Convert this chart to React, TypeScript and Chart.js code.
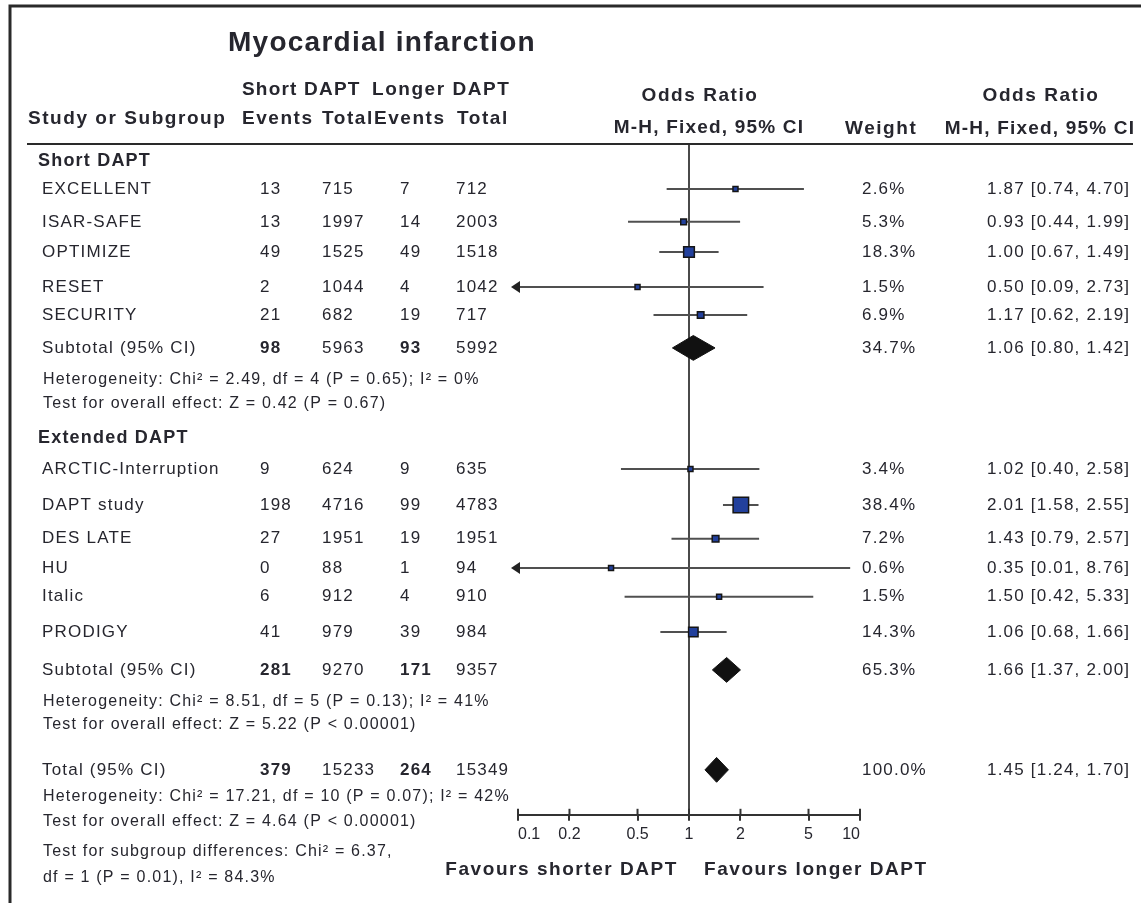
import React, { useEffect, useRef } from 'react';
import { Chart, registerables } from 'chart.js';

Chart.register(...registerables);

// ---------------- data ----------------
const TITLE = 'Myocardial infarction';
const GROUP_LABELS = ['Short DAPT', 'Extended DAPT'];
const GROUP_ROWS = [0.51, 8.76];

const STUDIES = ['EXCELLENT', 'ISAR-SAFE', 'OPTIMIZE', 'RESET', 'SECURITY', 'ARCTIC-Interruption', 'DAPT study', 'DES LATE', 'HU', 'Italic', 'PRODIGY'];
const SHORT_EVENTS = [13, 13, 49, 2, 21, 9, 198, 27, 0, 6, 41];
const SHORT_TOTAL = [715, 1997, 1525, 1044, 682, 624, 4716, 1951, 88, 912, 979];
const LONG_EVENTS = [7, 14, 49, 4, 19, 9, 99, 19, 1, 4, 39];
const LONG_TOTAL = [712, 2003, 1518, 1042, 717, 635, 4783, 1951, 94, 910, 984];
const WEIGHTS = [2.6, 5.3, 18.3, 1.5, 6.9, 3.4, 38.4, 7.2, 0.6, 1.5, 14.3];
const ODDS = [1.87, 0.93, 1.0, 0.5, 1.17, 1.02, 2.01, 1.43, 0.35, 1.5, 1.06];
const LOWER = [0.74, 0.44, 0.67, 0.09, 0.62, 0.4, 1.58, 0.79, 0.01, 0.42, 0.68];
const UPPER = [4.7, 1.99, 1.49, 2.73, 2.19, 2.58, 2.55, 2.57, 8.76, 5.33, 1.66];
const STUDY_ROWS = [1.34, 2.32, 3.22, 4.26, 5.1, 9.69, 10.76, 11.77, 12.64, 13.5, 14.55];

const POOLED_LABELS = ['Subtotal (95% CI)', 'Subtotal (95% CI)', 'Total (95% CI)'];
const POOLED_SHORT_EVENTS = [98, 281, 379];
const POOLED_SHORT_TOTAL = [5963, 9270, 15233];
const POOLED_LONG_EVENTS = [93, 171, 264];
const POOLED_LONG_TOTAL = [5992, 9357, 15349];
const POOLED_WEIGHTS = [34.7, 65.3, 100.0];
const POOLED_ODDS = [1.06, 1.66, 1.45];
const POOLED_LOWER = [0.8, 1.37, 1.24];
const POOLED_UPPER = [1.42, 2.0, 1.7];
const POOLED_ROWS = [6.08, 15.68, 18.66];

const NOTES = [
  'Heterogeneity: Chi² = 2.49, df = 4 (P = 0.65); I² = 0%',
  'Test for overall effect: Z = 0.42 (P = 0.67)',
  'Heterogeneity: Chi² = 8.51, df = 5 (P = 0.13); I² = 41%',
  'Test for overall effect: Z = 5.22 (P < 0.00001)',
  'Heterogeneity: Chi² = 17.21, df = 10 (P = 0.07); I² = 42%',
  'Test for overall effect: Z = 4.64 (P < 0.00001)',
  'Test for subgroup differences: Chi² = 6.37,',
  'df = 1 (P = 0.01), I² = 84.3%',
];
const NOTE_ROWS = [7.03, 7.75, 16.63, 17.32, 19.46, 20.21, 21.1, 21.88];

const TICK_VALUES = [0.1, 0.2, 0.5, 1, 2, 5, 10];
const TICK_LABELS = ['0.1', '0.2', '0.5', '1', '2', '5', '10'];
const FAVOURS = ['Favours shorter DAPT', 'Favours longer DAPT'];

// ---------------- styles / layout ----------------
const W = 1141;
const H = 903;
const FONT = '"Liberation Sans", Arial, Helvetica, sans-serif';
const TEXT = '#26262e';
const Y_MAX = 20;
const DIAMOND_HALF = 0.37;
const COLS = { name: 42, se: 260, st: 322, le: 400, lt: 456, weight: 862, or: 987 };
const HEAD_SPACING = 1.55;

function fmtOR(o: number, l: number, u: number) {
  return `${o.toFixed(2)} [${l.toFixed(2)}, ${u.toFixed(2)}]`;
}

function drawText(ctx: CanvasRenderingContext2D, text: string, x: number, y: number, font: string, align: CanvasTextAlign = 'left', spacing = 1.2) {
  ctx.save();
  ctx.font = font;
  (ctx as any).letterSpacing = `${spacing}px`;
  ctx.textAlign = align;
  ctx.textBaseline = 'middle';
  ctx.fillStyle = TEXT;
  ctx.fillText(text, x, y);
  ctx.restore();
}

const tablePlugin = {
  id: 'forestTable',
  afterDraw(chart: any) {
    const { ctx, chartArea, scales } = chart;
    const xs = scales.x;
    const ys = scales.y;
    const body = `17px ${FONT}`;
    const bodyBold = `bold 17px ${FONT}`;
    const head = `bold 19px ${FONT}`;
    const note = `16px ${FONT}`;

    ctx.save();
    // frame
    ctx.strokeStyle = '#2a2a2a';
    ctx.lineWidth = 3;
    ctx.beginPath();
    ctx.moveTo(10, H);
    ctx.lineTo(10, 6);
    ctx.lineTo(W, 6);
    ctx.stroke();
    // header rule
    ctx.lineWidth = 2;
    ctx.beginPath();
    ctx.moveTo(27, chartArea.top);
    ctx.lineTo(1133, chartArea.top);
    ctx.stroke();
    // upward tick halves
    ctx.strokeStyle = '#333';
    ctx.lineWidth = 2;
    xs.ticks.forEach((t: any) => {
      const px = xs.getPixelForValue(t.value);
      ctx.beginPath();
      ctx.moveTo(px, chartArea.bottom - 6);
      ctx.lineTo(px, chartArea.bottom);
      ctx.stroke();
    });
    // arrows for truncated CIs
    ctx.fillStyle = '#222';
    STUDIES.forEach((_, i) => {
      const y = ys.getPixelForValue(STUDY_ROWS[i]);
      if (LOWER[i] < xs.min) {
        ctx.beginPath();
        ctx.moveTo(chartArea.left - 7, y);
        ctx.lineTo(chartArea.left + 2, y - 6);
        ctx.lineTo(chartArea.left + 2, y + 6);
        ctx.closePath();
        ctx.fill();
      }
      if (UPPER[i] > xs.max) {
        ctx.beginPath();
        ctx.moveTo(chartArea.right + 7, y);
        ctx.lineTo(chartArea.right - 2, y - 6);
        ctx.lineTo(chartArea.right - 2, y + 6);
        ctx.closePath();
        ctx.fill();
      }
    });
    ctx.restore();

    // headers
    drawText(ctx, TITLE, 228, 43, `bold 28px ${FONT}`, 'left', 1.25);
    drawText(ctx, 'Short DAPT', 242, 90, head, 'left', 1.2);
    drawText(ctx, 'Longer DAPT', 372, 90, head, 'left', HEAD_SPACING);
    drawText(ctx, 'Study or Subgroup', 28, 119, head, 'left', HEAD_SPACING);
    drawText(ctx, 'Events', 242, 119, head, 'left', HEAD_SPACING);
    drawText(ctx, 'Total', 322, 119, head, 'left', HEAD_SPACING);
    drawText(ctx, 'Events', 374, 119, head, 'left', HEAD_SPACING);
    drawText(ctx, 'Total', 457, 119, head, 'left', HEAD_SPACING);
    drawText(ctx, 'Odds Ratio', 700, 96, head, 'center', HEAD_SPACING);
    drawText(ctx, 'M-H, Fixed, 95% CI', 709, 128, head, 'center', 1.2);
    drawText(ctx, 'Weight', 845, 129, head, 'left', HEAD_SPACING);
    drawText(ctx, 'Odds Ratio', 1041, 96, head, 'center', HEAD_SPACING);
    drawText(ctx, 'M-H, Fixed, 95% CI', 1040, 129, head, 'center', 1.2);

    GROUP_LABELS.forEach((g, i) => drawText(ctx, g, 38, ys.getPixelForValue(GROUP_ROWS[i]), `bold 18px ${FONT}`));

    STUDIES.forEach((s, i) => {
      const y = ys.getPixelForValue(STUDY_ROWS[i]);
      drawText(ctx, s, COLS.name, y, body);
      drawText(ctx, String(SHORT_EVENTS[i]), COLS.se, y, body);
      drawText(ctx, String(SHORT_TOTAL[i]), COLS.st, y, body);
      drawText(ctx, String(LONG_EVENTS[i]), COLS.le, y, body);
      drawText(ctx, String(LONG_TOTAL[i]), COLS.lt, y, body);
      drawText(ctx, `${WEIGHTS[i].toFixed(1)}%`, COLS.weight, y, body);
      drawText(ctx, fmtOR(ODDS[i], LOWER[i], UPPER[i]), COLS.or, y, body);
    });

    POOLED_LABELS.forEach((s, i) => {
      const y = ys.getPixelForValue(POOLED_ROWS[i]);
      drawText(ctx, s, COLS.name, y, body);
      drawText(ctx, String(POOLED_SHORT_EVENTS[i]), COLS.se, y, bodyBold);
      drawText(ctx, String(POOLED_SHORT_TOTAL[i]), COLS.st, y, body);
      drawText(ctx, String(POOLED_LONG_EVENTS[i]), COLS.le, y, bodyBold);
      drawText(ctx, String(POOLED_LONG_TOTAL[i]), COLS.lt, y, body);
      drawText(ctx, `${POOLED_WEIGHTS[i].toFixed(1)}%`, COLS.weight, y, body);
      drawText(ctx, fmtOR(POOLED_ODDS[i], POOLED_LOWER[i], POOLED_UPPER[i]), COLS.or, y, body);
    });

    NOTES.forEach((n, i) => drawText(ctx, n, 43, ys.getPixelForValue(NOTE_ROWS[i]), note));

    const one = xs.getPixelForValue(1);
    drawText(ctx, FAVOURS[0], one - 11, 870, head, 'right', HEAD_SPACING);
    drawText(ctx, FAVOURS[1], one + 15, 870, head, 'left', HEAD_SPACING);
  },
};

export default function App() {
  const ref = useRef<HTMLCanvasElement>(null);

  useEffect(() => {
    const canvas = ref.current;
    if (!canvas) return;

    const datasets: any[] = [];
    // line of no effect
    datasets.push({
      type: 'line',
      data: [{ x: 1, y: 0 }, { x: 1, y: Y_MAX }],
      borderColor: '#4a4a4a',
      borderWidth: 2,
      pointRadius: 0,
      order: 3,
    });
    // confidence intervals
    STUDIES.forEach((_, i) => {
      datasets.push({
        type: 'line',
        data: [{ x: LOWER[i], y: STUDY_ROWS[i] }, { x: UPPER[i], y: STUDY_ROWS[i] }],
        borderColor: '#505050',
        borderWidth: 2,
        pointRadius: 0,
        order: 2,
      });
    });
    // study estimates
    datasets.push({
      type: 'line',
      showLine: false,
      data: STUDIES.map((_, i) => ({ x: ODDS[i], y: STUDY_ROWS[i] })),
      pointStyle: 'rect',
      pointRadius: WEIGHTS.map((w) => Math.max(5, 2.5 * Math.sqrt(w)) / Math.SQRT2),
      pointBackgroundColor: '#22409c',
      pointBorderColor: '#151515',
      pointBorderWidth: 1.5,
      order: 1,
    });
    // pooled diamonds
    POOLED_ODDS.forEach((o, i) => {
      const r = POOLED_ROWS[i];
      datasets.push({
        type: 'line',
        data: [
          { x: POOLED_LOWER[i], y: r },
          { x: o, y: r - DIAMOND_HALF },
          { x: POOLED_UPPER[i], y: r },
          { x: o, y: r + DIAMOND_HALF },
          { x: POOLED_LOWER[i], y: r },
        ],
        borderColor: '#111',
        backgroundColor: '#111',
        borderWidth: 1,
        pointRadius: 0,
        tension: 0,
        fill: 'shape',
        order: 0,
      });
    });

    const chart = new Chart(canvas, {
      type: 'line',
      data: { datasets },
      options: {
        responsive: false,
        animation: false,
        events: [],
        layout: { padding: { left: 518, right: W - 860, top: 144, bottom: 55 } },
        plugins: { legend: { display: false }, tooltip: { enabled: false }, title: { display: false } },
        scales: {
          x: {
            type: 'logarithmic',
            min: 0.1,
            max: 10,
            afterBuildTicks: (scale: any) => {
              scale.ticks = TICK_VALUES.map((value) => ({ value }));
            },
            ticks: {
              autoSkip: false,
              maxRotation: 0,
              align: 'inner',
              padding: 4,
              color: TEXT,
              font: { family: FONT, size: 16 },
              callback: (_v: any, index: number) => TICK_LABELS[index],
            },
            grid: { display: true, drawOnChartArea: false, drawTicks: true, tickLength: 6, color: '#333', lineWidth: 2 },
            border: { display: true, color: '#333', width: 2 },
          },
          y: {
            type: 'linear',
            min: 0,
            max: Y_MAX,
            reverse: true,
            display: false,
          },
        },
      },
      plugins: [tablePlugin],
    } as any);

    return () => chart.destroy();
  }, []);

  return (
    <div style={{ position: 'absolute', left: 0, top: 0, width: W, height: H, background: '#fff' }}>
      <canvas ref={ref} width={W} height={H} />
    </div>
  );
}
